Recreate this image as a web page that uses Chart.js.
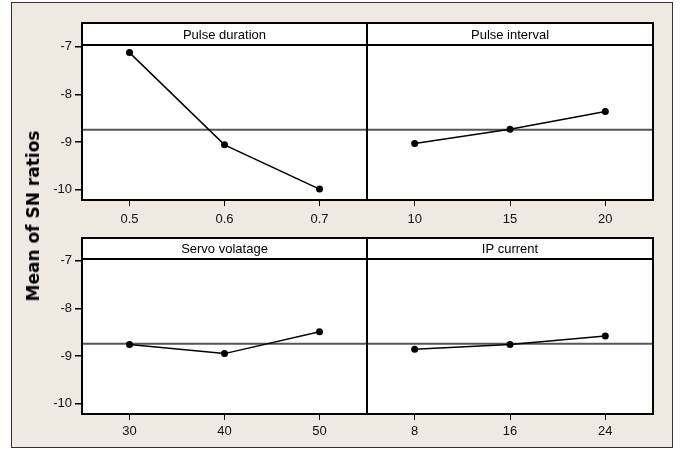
<!DOCTYPE html>
<html><head><meta charset="utf-8">
<script src="https://cdn.jsdelivr.net/npm/chart.js@4.4.0/dist/chart.umd.min.js"></script>
<style>
html,body{margin:0;padding:0;background:#fff;}
#wrap{position:relative;width:680px;height:450px;overflow:hidden;}
#frame{position:absolute;left:11px;top:2px;width:660px;height:444px;background:#EEEAE1;border:1px solid #333;}
canvas{position:absolute;left:0;top:0;}
#ytitle{position:absolute;left:33px;top:216px;transform:translate(-50%,-50%) rotate(-90deg);font:bold 17px "DejaVu Sans";white-space:nowrap;color:#000;}
</style></head>
<body><div id="wrap"><div id="frame"></div>
<canvas id="c1" width="680" height="450"></canvas>
<canvas id="c2" width="680" height="450"></canvas>
<canvas id="c3" width="680" height="450"></canvas>
<canvas id="c4" width="680" height="450"></canvas>
<div id="ytitle">Mean of SN ratios</div>
</div>
<script>
// ---- data ----
const pulseDurationLevels = ['0.5', '0.6', '0.7'];
const pulseDurationSN = [-7.12, -9.06, -9.99];
const pulseIntervalLevels = ['10', '15', '20'];
const pulseIntervalSN = [-9.03, -8.73, -8.36];
const servoVoltageLevels = ['30', '40', '50'];
const servoVoltageSN = [-8.76, -8.95, -8.49];
const ipCurrentLevels = ['8', '16', '24'];
const ipCurrentSN = [-8.86, -8.76, -8.58];
const panelTitles = ['Pulse duration', 'Pulse interval', 'Servo volatage', 'IP current'];
const yTickValues = [-10, -9, -8, -7];
const overallMean = -8.74;
const yMin = -10.22, yMax = -6.96;

const tickFont = {family: 'Liberation Sans', size: 13};

const panelPlugin = {
  id: 'panel',
  beforeDraw(chart, args, opts) {
    const {ctx, chartArea: a} = chart;
    ctx.save();
    ctx.fillStyle = '#fff';
    ctx.fillRect(a.left, opts.stripTop, a.right - a.left, a.bottom - opts.stripTop);
    ctx.restore();
  },
  beforeDatasetsDraw(chart, args, opts) {
    const {ctx, chartArea: a} = chart;
    const y = chart.scales.y.getPixelForValue(overallMean);
    ctx.save();
    ctx.strokeStyle = '#555';
    ctx.lineWidth = 2;
    ctx.beginPath();
    ctx.moveTo(a.left, y);
    ctx.lineTo(a.right, y);
    ctx.stroke();
    ctx.restore();
  },
  afterDraw(chart, args, opts) {
    const {ctx, chartArea: a} = chart;
    ctx.save();
    ctx.strokeStyle = '#000';
    ctx.lineWidth = 2;
    ctx.strokeRect(a.left, opts.stripTop, a.right - a.left, a.bottom - opts.stripTop);
    ctx.beginPath();
    ctx.moveTo(a.left, a.top);
    ctx.lineTo(a.right, a.top);
    ctx.stroke();
    ctx.fillStyle = '#000';
    ctx.font = '13px "Liberation Sans"';
    ctx.textAlign = 'center';
    ctx.textBaseline = 'middle';
    ctx.fillText(opts.title, (a.left + a.right) / 2, (opts.stripTop + a.top) / 2 + 1);
    ctx.restore();
  }
};

function makePanel(id, labels, values, title, g) {
  new Chart(document.getElementById(id), {
    type: 'line',
    data: {
      labels: labels,
      datasets: [{
        data: values,
        borderColor: '#000',
        backgroundColor: '#000',
        borderWidth: 1.5,
        pointRadius: 3.5,
        pointHoverRadius: 3.5,
        pointBackgroundColor: '#000',
        pointBorderWidth: 0,
        tension: 0,
        fill: false
      }]
    },
    options: {
      responsive: false,
      animation: false,
      events: [],
      layout: {padding: {left: g.showY ? 0 : g.left, right: 680 - g.right, top: g.top, bottom: 450 - g.bottom - 30}},
      plugins: {
        legend: {display: false},
        tooltip: {enabled: false},
        panel: {title: title, stripTop: g.stripTop}
      },
      scales: {
        x: {
          type: 'category',
          offset: true,
          grid: {display: true, offset: false, drawOnChartArea: false, drawTicks: true, tickLength: 6, color: '#000', lineWidth: 1},
          border: {display: false},
          ticks: {font: tickFont, color: '#111', padding: g.xPad, maxRotation: 0, autoSkip: false},
          afterFit: (s) => { s.height = 30; }
        },
        y: {
          display: g.showY,
          min: yMin,
          max: yMax,
          afterBuildTicks: (s) => { s.ticks = yTickValues.map(v => ({value: v})); },
          grid: {drawOnChartArea: false, drawTicks: true, tickLength: 7, color: '#000', lineWidth: 1.5},
          border: {display: false},
          ticks: {font: tickFont, color: '#111', padding: 3},
          afterFit: (s) => { s.width = g.showY ? 82 : 0; }
        }
      }
    },
    plugins: [panelPlugin]
  });
}

const topRow = {top: 45, bottom: 200, stripTop: 23, xPad: 6};
const botRow = {top: 259, bottom: 414, stripTop: 238, xPad: 4};
makePanel('c1', pulseDurationLevels, pulseDurationSN, panelTitles[0], Object.assign({left: 82, right: 367, showY: true}, topRow));
makePanel('c2', pulseIntervalLevels, pulseIntervalSN, panelTitles[1], Object.assign({left: 367, right: 653, showY: false}, topRow));
makePanel('c3', servoVoltageLevels, servoVoltageSN, panelTitles[2], Object.assign({left: 82, right: 367, showY: true}, botRow));
makePanel('c4', ipCurrentLevels, ipCurrentSN, panelTitles[3], Object.assign({left: 367, right: 653, showY: false}, botRow));
</script>
</body></html>
